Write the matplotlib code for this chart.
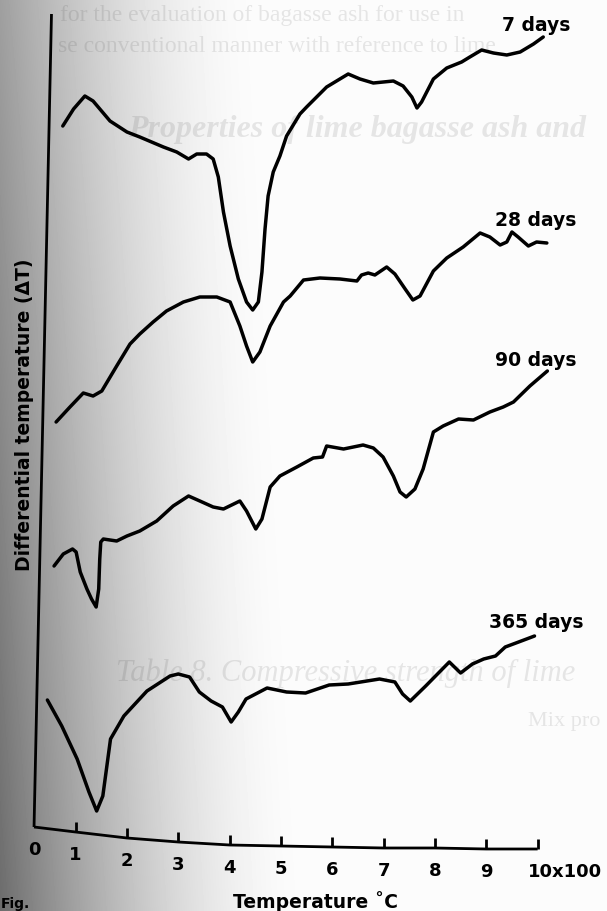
import numpy as np
import matplotlib
matplotlib.use('Agg')
import matplotlib.pyplot as plt

plt.rc('font', family='DejaVu Sans', weight='bold')

#===================
# DTA traces: temperature (x100 deg C) and differential temperature (arb. units)
#===================
t_7 = [0.75, 0.96, 1.18, 1.34, 1.67, 2.00, 2.25, 2.71, 2.97, 3.20, 3.36, 3.55, 3.68, 3.78, 3.88,
       4.01, 4.17, 4.33, 4.45, 4.56, 4.63, 4.69, 4.75, 4.85, 4.98, 5.11, 5.37, 5.50, 5.89, 6.31,
       6.54, 6.80, 7.19, 7.38, 7.55, 7.65, 7.74, 7.97, 8.23, 8.52, 8.68, 8.91, 9.14, 9.40, 9.66,
       9.92, 10.11]
dt_7 = [70.1, 71.8, 73.1, 72.6, 70.6, 69.5, 69.0, 68.0, 67.5, 66.8, 67.3, 67.3, 66.8, 65.0, 61.5,
        58.1, 54.8, 52.5, 51.7, 52.5, 55.5, 59.8, 63.1, 65.5, 67.1, 69.1, 71.3, 72.0, 74.0, 75.3,
        74.8, 74.4, 74.6, 74.1, 73.0, 71.9, 72.5, 74.8, 75.9, 76.5, 77.0, 77.7, 77.4, 77.2, 77.5,
        78.3, 79.0]

t_28 = [0.62, 0.89, 1.15, 1.34, 1.51, 1.80, 2.06, 2.25, 2.51, 2.77, 3.10, 3.42, 3.75, 4.01, 4.20,
        4.33, 4.45, 4.59, 4.79, 5.05, 5.18, 5.44, 5.76, 6.15, 6.48, 6.57, 6.70, 6.83, 7.06, 7.22,
        7.42, 7.57, 7.71, 7.97, 8.23, 8.55, 8.88, 9.07, 9.27, 9.40, 9.50, 9.62, 9.82, 9.98, 10.18]
dt_28 = [40.5, 42.0, 43.4, 43.1, 43.6, 46.1, 48.3, 49.3, 50.5, 51.6, 52.5, 53.0, 53.0, 52.5, 50.1,
         48.1, 46.5, 47.5, 50.1, 52.5, 53.1, 54.7, 54.9, 54.8, 54.6, 55.2, 55.4, 55.2, 56.0, 55.3,
         53.8, 52.7, 53.1, 55.6, 56.9, 58.0, 59.4, 59.0, 58.2, 58.5, 59.5, 59.0, 58.1, 58.5, 58.4]

t_90 = [0.58, 0.76, 0.94, 1.01, 1.09, 1.22, 1.31, 1.40, 1.45, 1.47, 1.49, 1.54, 1.80, 2.00, 2.25,
        2.58, 2.90, 3.20, 3.42, 3.68, 3.88, 4.04, 4.20, 4.33, 4.51, 4.63, 4.79, 4.98, 5.31, 5.63,
        5.81, 5.89, 6.22, 6.60, 6.80, 6.99, 7.19, 7.32, 7.44, 7.61, 7.77, 7.97, 8.16, 8.46, 8.75,
        9.07, 9.33, 9.53, 9.85, 10.19]
dt_90 = [26.1, 27.3, 27.8, 27.5, 25.5, 23.8, 22.8, 22.0, 23.8, 26.8, 28.5, 28.8, 28.6, 29.1, 29.6,
         30.6, 32.1, 33.1, 32.6, 32.0, 31.8, 32.2, 32.6, 31.6, 29.8, 30.8, 34.0, 35.1, 36.0, 36.9,
         37.0, 38.1, 37.8, 38.2, 37.9, 37.0, 35.1, 33.5, 33.0, 33.8, 35.8, 39.5, 40.1, 40.8, 40.7,
         41.5, 42.0, 42.5, 44.1, 45.6]

t_365 = [0.45, 0.73, 1.03, 1.26, 1.41, 1.53, 1.68, 1.94, 2.39, 2.84, 3.00, 3.22, 3.41, 3.64, 3.86,
         4.03, 4.17, 4.32, 4.73, 5.11, 5.48, 5.94, 6.31, 6.92, 7.22, 7.37, 7.52, 7.82, 8.28, 8.50,
         8.73, 8.95, 9.18, 9.37, 9.63, 9.94]
dt_365 = [12.7, 10.1, 6.8, 3.5, 1.6, 3.1, 8.8, 11.1, 13.6, 15.1, 15.3, 15.0, 13.5, 12.6, 12.0,
          10.5, 11.5, 12.8, 13.9, 13.5, 13.4, 14.2, 14.3, 14.8, 14.5, 13.3, 12.6, 14.1, 16.5, 15.4,
          16.3, 16.8, 17.1, 18.0, 18.5, 19.1]

curve_labels = ['7 days', '28 days', '90 days', '365 days']
label_dt = [80.3, 60.7, 46.8, 20.6]

tick_t = list(range(1, 11))
tick_labels = ['1', '2', '3', '4', '5', '6', '7', '8', '9', '10x100']
#===================

W, H = 607, 912
fig = plt.figure(figsize=(W / 100, H / 100), dpi=100)

# paper shading, darker towards the binding on the left
bg = fig.add_axes([0, 0, 1, 1])
px = np.arange(W)[None, :]
py = np.arange(H)[:, None]
reach = 250 + 50 * py / H
depth = 0.36 + 0.20 * py / H
shade = 0.985 - depth * np.clip(1 - px / reach, 0, 1) ** 1.6
bg.imshow(shade, cmap='gray', vmin=0, vmax=1, extent=[0, W, H, 0], aspect='auto')
bg.set_xlim(0, W)
bg.set_ylim(H, 0)
bg.axis('off')

# text showing through from the facing page
ghost = dict(color='k', alpha=0.09, family='Liberation Serif', va='center', ha='left')
bg.text(60, 15, 'for the evaluation of bagasse ash for use in', fontsize=17, weight='normal', **ghost)
bg.text(58, 47, 'se conventional manner with reference to lime', fontsize=17, weight='normal', **ghost)
bg.text(128, 129, 'Properties of lime bagasse ash and', fontsize=23,
        style='italic', weight='bold', **ghost)
bg.text(116, 673, 'Table 8. Compressive strength of lime', fontsize=22,
        style='italic', weight='normal', **ghost)
bg.text(528, 722, 'Mix pro', fontsize=16, weight='normal', **ghost)

ax = fig.add_axes([0, 0, 1, 1])
ax.set_xlim(-0.473, 11.352)
ax.set_ylim(-8.4, 82.8)
ax.axis('off')

line_kw = dict(color='k', lw=2.5, solid_joinstyle='round', solid_capstyle='round')
for t, d in [(t_7, dt_7), (t_28, dt_28), (t_90, dt_90), (t_365, dt_365)]:
    ax.plot(t, d, **line_kw)

for lab, y in zip(curve_labels, label_dt):
    ax.text(9.97, y, lab, ha='center', va='center', fontsize=13.5)

# hand-ruled axes (the temperature axis sags towards the right)
base_sag = [-0.5, -1.1, -1.5, -1.8, -1.9, -2.0, -2.1, -2.1, -2.2, -2.2]
x0 = 0.19
axis_kw = dict(color='k', lw=2.0, solid_capstyle='butt')
ax.plot([x0] + tick_t, [0] + base_sag, **axis_kw)
ax.plot([x0, 0.53], [0, 81.3], **axis_kw)
for t, s, lab in zip(tick_t, base_sag, tick_labels):
    ax.plot([t, t], [s, s + 1.0], **axis_kw)
    if lab == '10x100':
        ax.text(t - 0.18, s - 2.2, lab, ha='left', va='center', fontsize=13)
    else:
        ax.text(t, s - 2.2, lab, ha='center', va='center', fontsize=13)
ax.text(0.2, -2.2, '0', ha='center', va='center', fontsize=13)

ax.text(5.68, -7.4, 'Temperature \u02daC', ha='center', va='center', fontsize=13.5)
ax.text(0.0, 41.3, 'Differential temperature (\u0394T)', rotation=90,
        ha='center', va='center', fontsize=13.5)
ax.text(-0.45, -8.35, 'Fig.', ha='left', va='bottom', fontsize=10)

plt.savefig('out.png', dpi=100)
